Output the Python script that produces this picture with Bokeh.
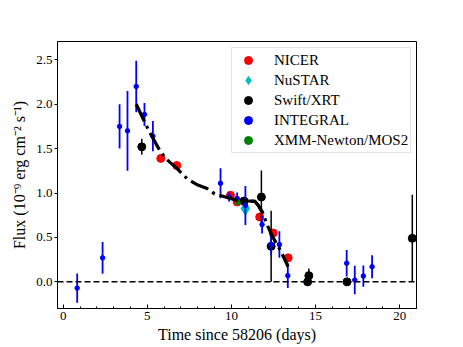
from bokeh.plotting import figure
from bokeh.models import (ColumnDataSource, Range1d, Span, Legend, LegendItem,
                          FixedTicker, PrintfTickFormatter)
from bokeh.embed import file_html
from bokeh.resources import INLINE

# ---- data ----
nicer_t = [5.80, 6.75, 9.94, 10.34, 11.68, 12.48, 13.37]
nicer_f = [1.39, 1.31, 0.975, 0.90, 0.73, 0.55, 0.27]
nicer_e = [0.02, 0.02, 0.02, 0.02, 0.02, 0.02, 0.02]

nustar_t = [10.83]
nustar_f = [0.825]
nustar_e = [0.02]

swift_t = [4.67, 10.75, 11.78, 12.36, 14.53, 14.60, 16.87, 20.75]
swift_f = [1.52, 0.91, 0.955, 0.40, 0.00, 0.07, 0.00, 0.49]
swift_e = [0.09, 0.04, 0.30, 0.40, 0.00, 0.08, 0.00, 0.49]

integral_t = [0.83, 2.34, 3.35, 3.82, 4.34, 4.83, 5.33, 9.35, 9.86, 10.34,
              10.83, 11.82, 12.36, 12.85, 13.35, 16.85, 17.33, 17.84, 18.36]
integral_f = [-0.07, 0.27, 1.75, 1.70, 2.20, 1.885, 1.64, 1.11, 0.955, 0.94,
              0.86, 0.645, 0.42, 0.42, 0.07, 0.21, 0.02, 0.065, 0.17]
integral_e = [0.165, 0.18, 0.25, 0.45, 0.29, 0.13, 0.17, 0.17, 0.05, 0.065,
              0.22, 0.10, 0.12, 0.15, 0.14, 0.15, 0.16, 0.12, 0.13]

xmm_t = [10.40]
xmm_f = [0.89]
xmm_e = [0.02]

model_t = [4.34, 4.79, 5.09, 5.68, 6.08, 6.77, 7.37, 8.00, 8.56, 9.00, 9.74,
           10.30, 10.60, 11.00, 11.40, 11.60, 11.85, 12.12, 12.50, 12.90, 13.37]
model_f = [2.00, 1.82, 1.70, 1.50, 1.39, 1.275, 1.16, 1.09, 1.05, 0.99, 0.95,
           0.92, 0.912, 0.91, 0.905, 0.86, 0.78, 0.64, 0.49, 0.36, 0.17]

plateau_t = [10.55, 11.00, 11.40, 11.60, 11.85]
plateau_f = [0.913, 0.91, 0.905, 0.86, 0.78]

x_ticks = [0, 5, 10, 15, 20]
y_ticks = [0.0, 0.5, 1.0, 1.5, 2.0, 2.5]

FONT = "Liberation Serif"

p = figure(width=463, height=347, output_backend="svg", toolbar_location=None,
           x_range=Range1d(-0.34, 21.0), y_range=Range1d(-0.30, 2.706),
           min_border_left=57, min_border_right=47, min_border_top=41,
           min_border_bottom=39)
p.background_fill_color = "white"
p.border_fill_color = "white"
p.outline_line_color = "black"
p.outline_line_width = 1
p.xgrid.visible = False
p.ygrid.visible = False

p.add_layout(Span(location=0, dimension="width", line_color="black",
                  line_width=1.5, line_dash="6 3"))


def src(t, f, e):
    return ColumnDataSource(dict(t=t, f=f,
                                 lo=[a - b for a, b in zip(f, e)],
                                 hi=[a + b for a, b in zip(f, e)]))


s_nicer = src(nicer_t, nicer_f, nicer_e)
s_nustar = src(nustar_t, nustar_f, nustar_e)
s_swift = src(swift_t, swift_f, swift_e)
s_int = src(integral_t, integral_f, integral_e)
s_xmm = src(xmm_t, xmm_f, xmm_e)

CYAN = "#00bfbf"

# NICER
p.segment(x0="t", y0="lo", x1="t", y1="hi", source=s_nicer, line_color="red", line_width=1.5)
r_nicer = p.scatter("t", "f", source=s_nicer, marker="circle", size=8,
                    fill_color="red", line_color="red")
# NuSTAR
p.segment(x0="t", y0="lo", x1="t", y1="hi", source=s_nustar, line_color=CYAN, line_width=1.5)
r_nustar = p.scatter("t", "f", source=s_nustar, marker="diamond", size=13,
                     fill_color=CYAN, line_color=CYAN)
# Swift
p.segment(x0="t", y0="lo", x1="t", y1="hi", source=s_swift, line_color="black", line_width=1.5)
r_swift = p.scatter("t", "f", source=s_swift, marker="circle", size=8,
                    fill_color="black", line_color="black")
# INTEGRAL
p.segment(x0="t", y0="lo", x1="t", y1="hi", source=s_int, line_color="blue", line_width=1.8)
r_int = p.scatter("t", "f", source=s_int, marker="circle", size=4.5,
                  fill_color="blue", line_color="blue")
# XMM
p.segment(x0="t", y0="lo", x1="t", y1="hi", source=s_xmm, line_color="green", line_width=1.5)
r_xmm = p.scatter("t", "f", source=s_xmm, marker="circle", size=4.5,
                  fill_color="green", line_color="green")

# model curve
p.line(model_t, model_f, line_color="black", line_width=3.2, line_dash="19 5 3 5")
p.line(plateau_t, plateau_f, line_color="black", line_width=3.2)

# axes
p.xaxis.ticker = FixedTicker(ticks=x_ticks, minor_ticks=list(range(0, 22)))
p.yaxis.ticker = FixedTicker(ticks=y_ticks)
p.yaxis.formatter = PrintfTickFormatter(format="%.1f")
for ax in (p.xaxis, p.yaxis):
    ax.axis_line_color = "black"
    ax.major_tick_line_color = "black"
    ax.minor_tick_line_color = "black"
    ax.major_label_text_font = FONT
    ax.major_label_text_font_size = "13px"
    ax.major_label_text_color = "black"
    ax.axis_label_text_font = FONT
    ax.axis_label_text_font_size = "16px"
    ax.axis_label_text_font_style = "normal"
    ax.axis_label_text_color = "black"

p.xaxis.major_tick_in = 4
p.xaxis.major_tick_out = 0
p.xaxis.minor_tick_in = 2
p.xaxis.minor_tick_out = 0
p.xaxis.major_label_standoff = 3
p.xaxis.axis_label_standoff = 3
p.yaxis.major_tick_in = 0
p.yaxis.major_tick_out = 3
p.yaxis.minor_tick_line_color = None
p.yaxis.major_label_standoff = 2
p.yaxis.axis_label_standoff = 5

p.xaxis.axis_label = "Time since 58206 (days)"
p.yaxis.axis_label = "Flux (10\u207b\u2079 erg cm\u207b\u00b2 s\u207b\u00b9)"

legend = Legend(items=[
    LegendItem(label="NICER", renderers=[r_nicer]),
    LegendItem(label="NuSTAR", renderers=[r_nustar]),
    LegendItem(label="Swift/XRT", renderers=[r_swift]),
    LegendItem(label="INTEGRAL", renderers=[r_int]),
    LegendItem(label="XMM-Newton/MOS2", renderers=[r_xmm]),
], location=(174, 155))
legend.label_text_font = FONT
legend.label_text_font_size = "15px"
legend.label_text_color = "black"
legend.label_height = 20
legend.glyph_height = 20
legend.glyph_width = 28
legend.spacing = 0
legend.padding = 2
legend.margin = 0
legend.label_standoff = 12
legend.border_line_color = "#cccccc"
legend.border_line_width = 1
legend.background_fill_alpha = 0.8
p.add_layout(legend)

open("out.html", "w").write(file_html(p, INLINE))
